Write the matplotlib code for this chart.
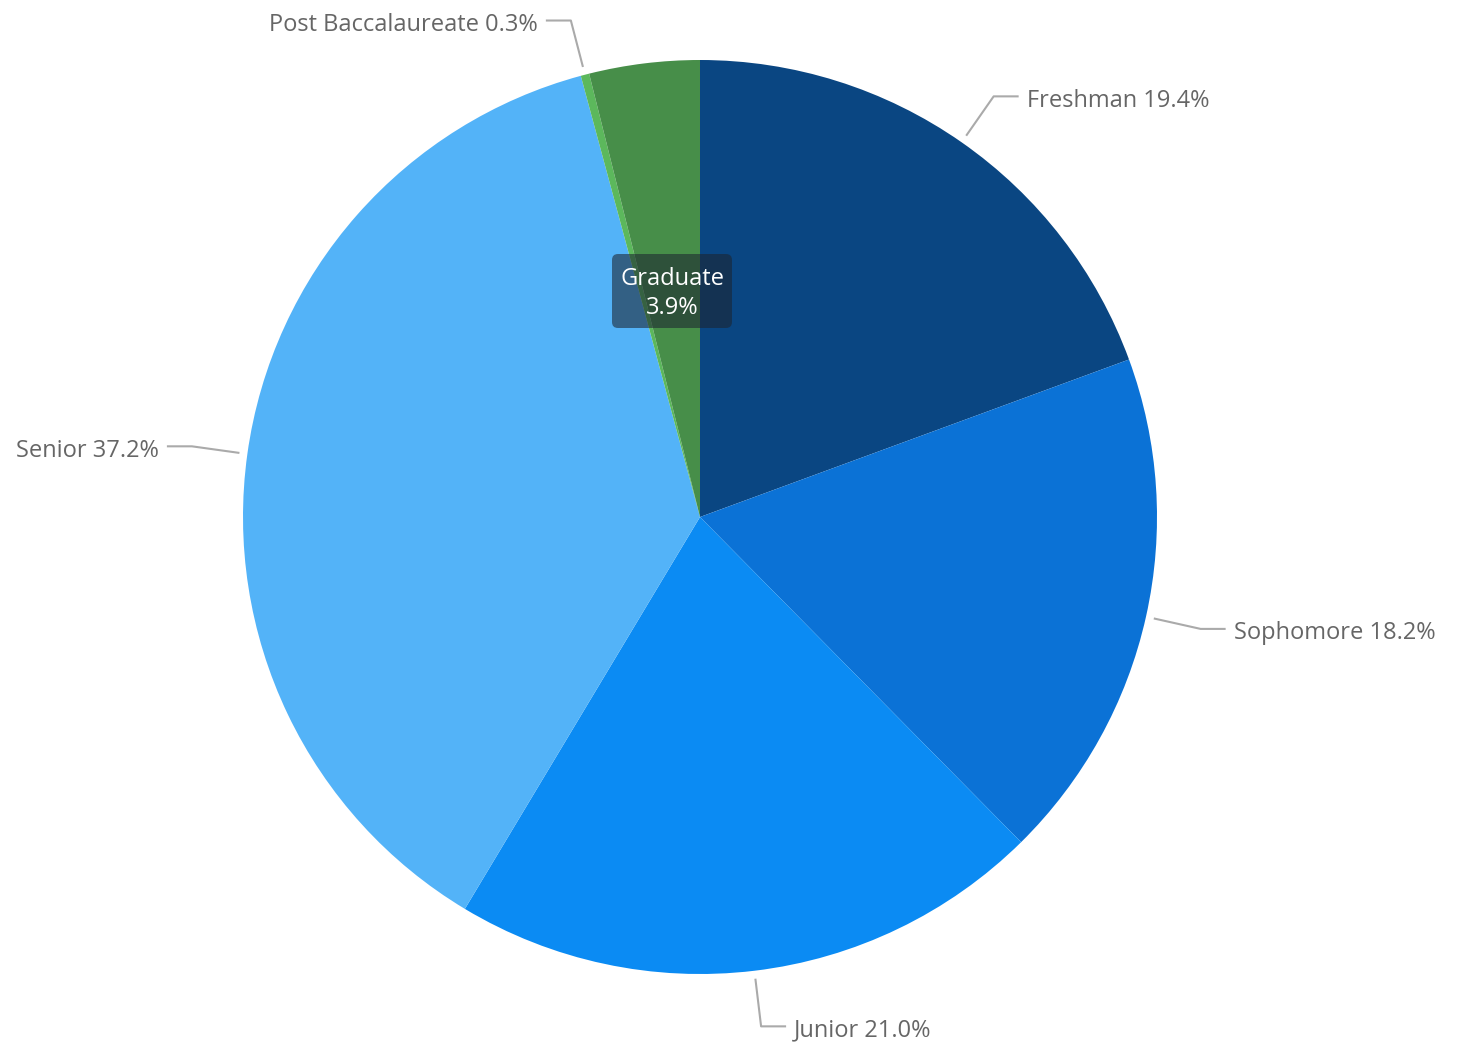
import numpy as np
import matplotlib
matplotlib.use("Agg")
import matplotlib.pyplot as plt
from matplotlib.patches import FancyBboxPatch

categories = ["Freshman", "Sophomore", "Junior", "Senior", "Post Baccalaureate", "Graduate"]
values = [19.4, 18.2, 21.0, 37.2, 0.3, 3.9]
colors = ["#0a4682", "#0b72d6", "#0b8bf3", "#53b3f8", "#5cb85c", "#478e49"]

plt.rcParams['font.family'] = ['Open Sans', 'DejaVu Sans']

W, H = 1457, 1042
fig = plt.figure(figsize=(W / 100, H / 100), dpi=100)
ax = fig.add_axes([0, 0, 1, 1])

cx, cy, R = 700, H - 517, 457
wedges, _ = ax.pie(values, colors=colors, startangle=90, counterclock=False,
                   center=(cx, cy), radius=R, frame=True,
                   wedgeprops=dict(linewidth=0))
ax.set_xlim(0, W)
ax.set_ylim(0, H)
ax.set_aspect('equal')
ax.axis('off')

total = sum(values)
start = 90.0
for name, v in zip(categories, values):
    span = 360.0 * v / total
    mid = np.deg2rad(start - span / 2)
    start -= span
    if name == "Graduate":
        continue
    p0 = (cx + (R + 8) * np.cos(mid), cy + (R + 8) * np.sin(mid))
    p1 = (cx + (R + 56) * np.cos(mid), cy + (R + 56) * np.sin(mid))
    side = 1 if np.cos(mid) >= 0 else -1
    p2 = (p1[0] + side * 25, p1[1])
    ax.plot([p0[0], p1[0], p2[0]], [p0[1], p1[1], p2[1]], color="#aaaaaa", lw=1.5,
            solid_capstyle='butt')
    ax.text(p2[0] + side * 8, p2[1] - 4.5, f"{name} {v:.1f}%", ha='left' if side > 0 else 'right',
            va='center', fontsize=17, color="#666666")

# tooltip for Graduate
bx0, by0, bw, bh = 612, H - 328, 120, 74
box = FancyBboxPatch((bx0 + 6, by0 + 6), bw - 12, bh - 12,
                     boxstyle="round,pad=6,rounding_size=6",
                     facecolor="#1c2530", alpha=0.58, edgecolor='none', zorder=5)
ax.add_patch(box)
ax.text(bx0 + bw / 2, H - 279, "Graduate", ha='center', va='center', fontsize=17,
        color="white", zorder=6)
ax.text(bx0 + bw / 2, H - 308, f"{values[5]:.1f}%", ha='center', va='center', fontsize=17,
        color="white", zorder=6)

fig.savefig("out.png", dpi=100)
